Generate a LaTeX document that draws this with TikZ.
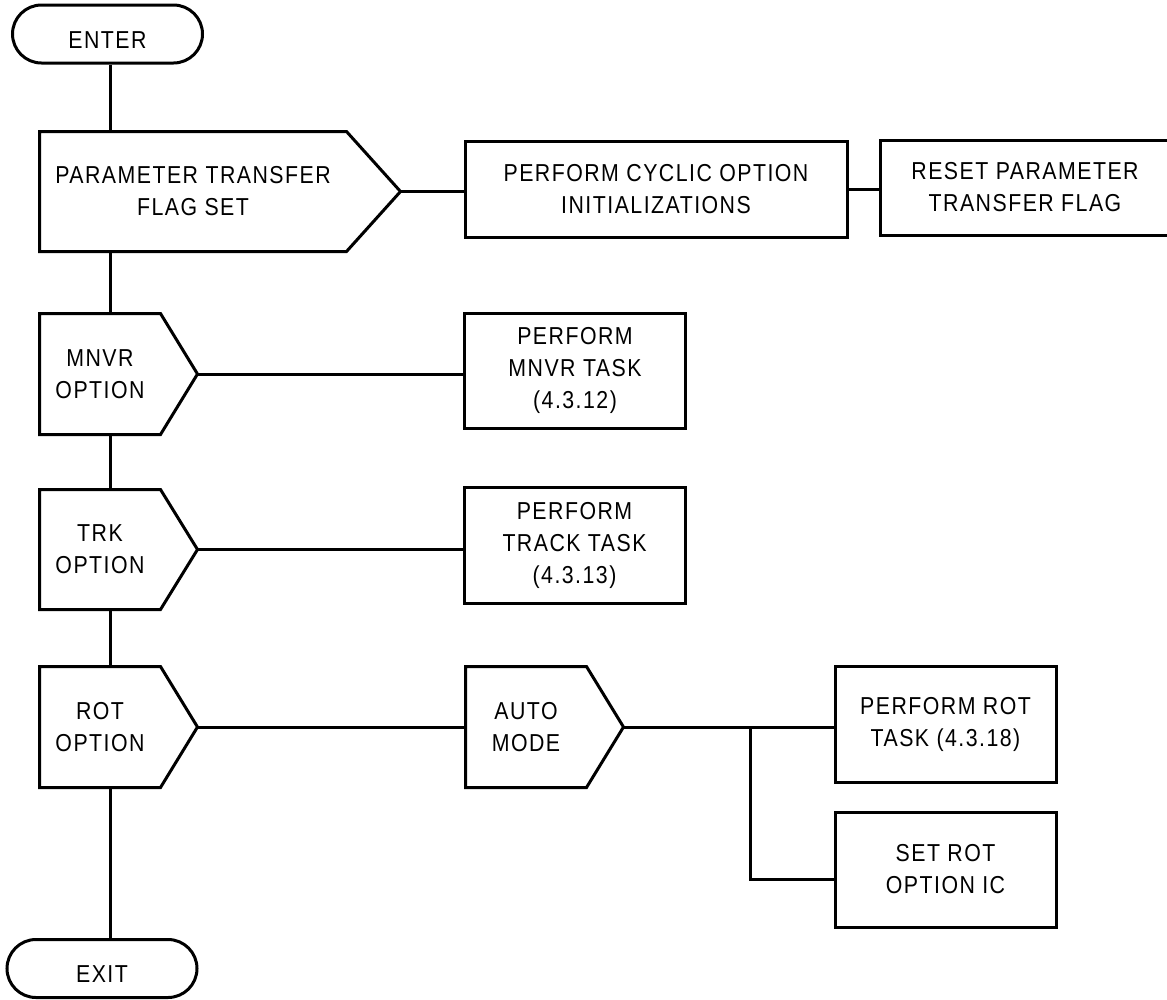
\documentclass[tikz,border=0pt]{standalone}
\usepackage{fontspec}
\setmainfont{Liberation Sans}[FakeStretch=0.87, LetterSpace=6]
\usetikzlibrary{calc}

\begin{document}
\begin{tikzpicture}[x=1pt, y=-1pt, line width=3pt,
  every node/.style={font=\fontsize{24.5}{32}\selectfont, align=center, inner sep=0pt},
  term/.style={draw, rounded corners=29pt, minimum width=190pt, minimum height=58pt, text height=28pt},
  test/.style={minimum width=118pt, minimum height=118pt},
  task/.style={draw, minimum width=221pt, minimum height=116pt}]
  \clip (0,0) rectangle (1167,999);

  % main column
  \node[term] (enter) at (107.5,34) {ENTER};
  \node[test, minimum width=304pt, minimum height=117pt] (param) at (193,191.5) {PARAMETER TRANSFER\\FLAG SET};
  \node[test] (mnvr) at (100,374) {MNVR\\OPTION};
  \node[test, minimum height=117pt] (trk) at (100,549.5) {TRK\\OPTION};
  \node[test] (rot) at (100,727) {ROT\\OPTION};
  \node[term] (exit) at (102,968.5) {EXIT};

  % tasks
  \node[task, minimum width=382pt, minimum height=96pt] (cyclic) at (656,189) {PERFORM CYCLIC OPTION\\INITIALIZATIONS};
  \node[task, minimum width=290pt, minimum height=95pt] (reset) at (1025,187.5) {RESET PARAMETER\\TRANSFER FLAG};
  \node[task, minimum height=115pt] (mnvrtask) at (575,370.5) {PERFORM\\MNVR TASK\\(4.3.12)};
  \node[task] (trktask) at (574.5,545) {PERFORM\\TRACK TASK\\(4.3.13)};
  \node[test] (auto) at (526,727) {AUTO\\MODE};
  \node[task] (rottask) at (945.5,724) {PERFORM ROT\\TASK (4.3.18)};
  \node[task, minimum height=115pt] (settask) at (945.5,869.5) {SET ROT\\OPTION IC};

  % option outlines
  \coordinate (param-tip) at ($(param.east)+(54,0)$);
  \coordinate (mnvr-tip) at ($(mnvr.east)+(37,0)$);
  \coordinate (trk-tip) at ($(trk.east)+(37,0)$);
  \coordinate (rot-tip) at ($(rot.east)+(37,0)$);
  \coordinate (auto-tip) at ($(auto.east)+(37,0)$);
  \foreach \n in {param, mnvr, trk, rot, auto}
    \draw (\n.north west) -- (\n.north east) -- (\n-tip) -- (\n.south east) -- (\n.south west) -- cycle;

  % connectors
  \coordinate (spine) at (110,0);
  \foreach \a/\b in {enter/param, param/mnvr, mnvr/trk, trk/rot, rot/exit}
    \draw (\a.south -| spine) -- (\b.north -| spine);
  \draw (param-tip) -- (param-tip -| cyclic.west);
  \draw (cyclic.east) -- (cyclic.east -| reset.west);
  \draw (mnvr-tip) -- (mnvr-tip -| mnvrtask.west);
  \draw (trk-tip) -- (trk-tip -| trktask.west);
  \draw (rot-tip) -- (rot-tip -| auto.west);
  \draw (auto-tip) -- (auto-tip -| rottask.west);
  \coordinate (fork) at (750,879);
  \draw (auto-tip -| fork) -- (fork) -- (fork -| settask.west);
\end{tikzpicture}
\end{document}
